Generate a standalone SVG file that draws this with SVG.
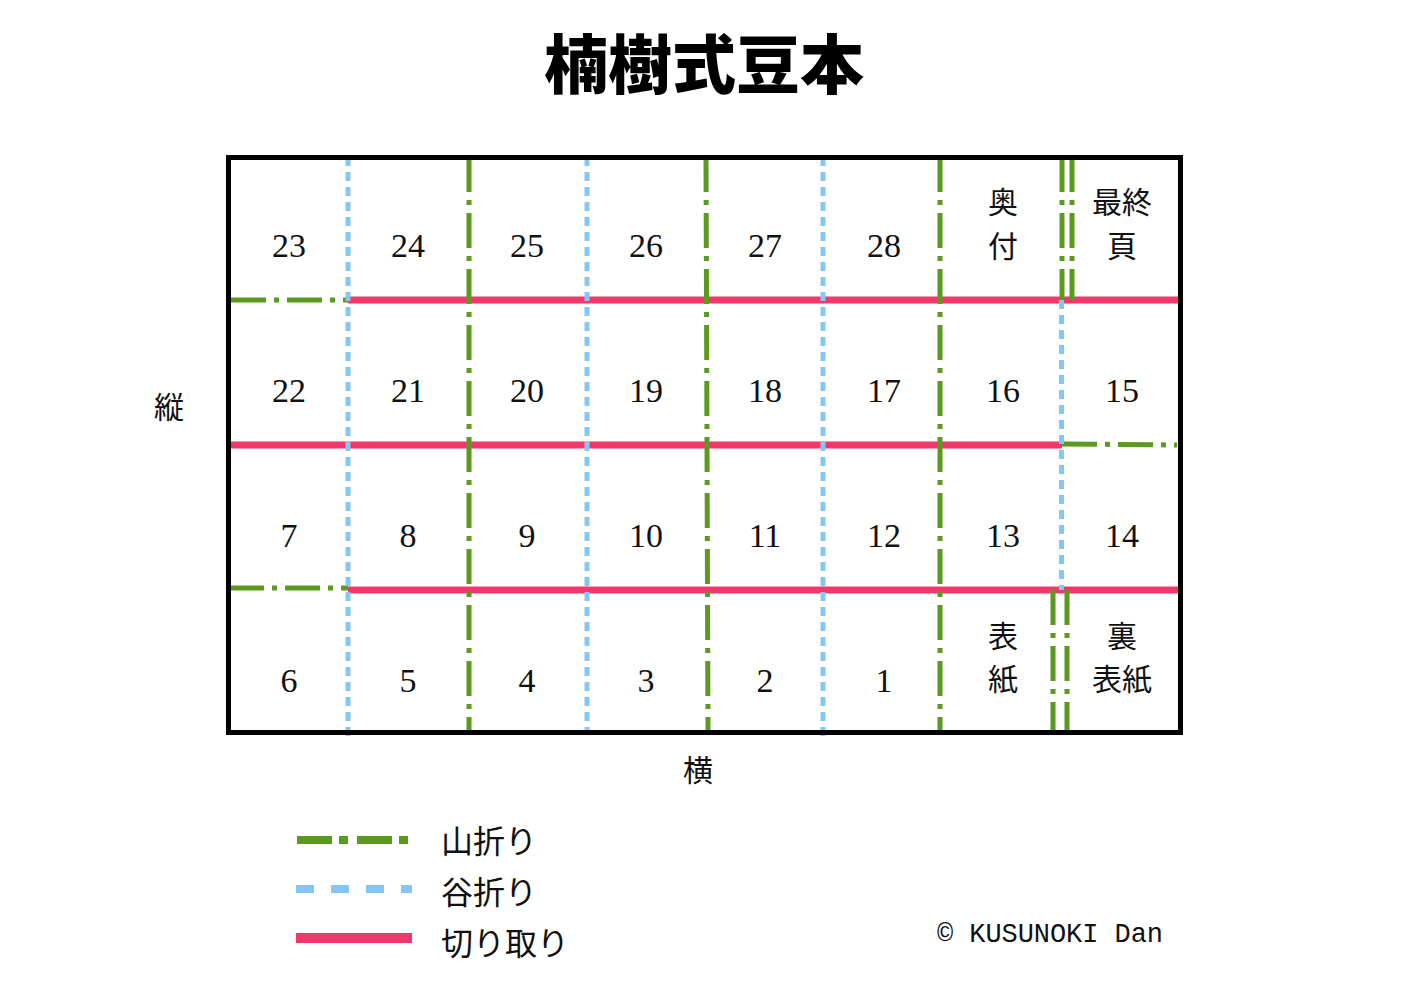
<svg xmlns="http://www.w3.org/2000/svg" width="1414" height="1000" viewBox="0 0 1414 1000">
<style>
.m{stroke:#5b9a1f;stroke-width:5;stroke-dasharray:35 8 5 8;fill:none}
.v{stroke:#84c7f7;stroke-width:5;stroke-dasharray:9 6;fill:none}
.c{stroke:#f2386a;stroke-width:7;fill:none}
.n{font-family:"Liberation Serif","Noto Sans CJK JP",serif;font-size:34px;fill:#111;text-anchor:middle}
.j{font-family:"Noto Sans CJK JP","Noto Sans CJK SC",sans-serif;font-size:30px;fill:#111;text-anchor:middle}
.lg{font-family:"Noto Sans CJK JP","Noto Sans CJK SC",sans-serif;font-size:32px;fill:#111}
</style>
<rect width="1414" height="1000" fill="#fff"/>
<g id="title"><text x="704" y="88" text-anchor="middle" font-family="'Noto Sans CJK JP','Noto Sans CJK SC',sans-serif" font-weight="900" font-size="64" fill="#000">楠樹式豆本</text></g>
<g id="connectors">
<line class="c" x1="348" y1="300" x2="1180" y2="300"/>
<line class="c" x1="229" y1="445" x2="1062" y2="445"/>
<line class="c" x1="348" y1="590" x2="1180" y2="590"/>
<line class="m" x1="231" y1="300" x2="348" y2="300"/>
<line class="m" x1="229" y1="588" x2="348" y2="588"/>
<line class="m" x1="1062" y1="444" x2="1177" y2="445" stroke-dasharray="3 6 4 9 36 8 5 9 36"/>
<line class="v" x1="348" y1="157" x2="348" y2="738"/>
<line class="v" x1="587" y1="157" x2="587" y2="733"/>
<line class="v" x1="823" y1="157" x2="823" y2="736"/>
<line class="v" x1="1061.5" y1="300" x2="1061.5" y2="590" stroke-dasharray="11 10"/>
<line class="m" x1="469" y1="157" x2="469" y2="733"/>
<line class="m" x1="706" y1="157" x2="708" y2="733"/>
<line class="m" x1="940" y1="157" x2="940" y2="733"/>
<line class="m" x1="1062" y1="157" x2="1062" y2="300"/>
<line class="m" x1="1072" y1="157" x2="1072" y2="300" stroke-dasharray="33 8 4 8"/>
<line class="m" x1="1053" y1="590" x2="1053" y2="733"/>
<line class="m" x1="1067" y1="590" x2="1067" y2="733"/>
</g>
<g id="frame"><rect x="228.5" y="157.5" width="952" height="575" fill="none" stroke="#000" stroke-width="5"/></g>
<g id="row1">
<text class="n" x="289" y="257">23</text>
<text class="n" x="408" y="257">24</text>
<text class="n" x="527" y="257">25</text>
<text class="n" x="646" y="257">26</text>
<text class="n" x="765" y="257">27</text>
<text class="n" x="884" y="257">28</text>
<text class="j" x="1003" y="213">奥</text>
<text class="j" x="1003" y="257">付</text>
<text class="j" x="1122" y="213">最終</text>
<text class="j" x="1122" y="257">頁</text>
</g>
<g id="row2">
<text class="n" x="289" y="402">22</text>
<text class="n" x="408" y="402">21</text>
<text class="n" x="527" y="402">20</text>
<text class="n" x="646" y="402">19</text>
<text class="n" x="765" y="402">18</text>
<text class="n" x="884" y="402">17</text>
<text class="n" x="1003" y="402">16</text>
<text class="n" x="1122" y="402">15</text>
</g>
<g id="row3">
<text class="n" x="289" y="547">7</text>
<text class="n" x="408" y="547">8</text>
<text class="n" x="527" y="547">9</text>
<text class="n" x="646" y="547">10</text>
<text class="n" x="765" y="547">11</text>
<text class="n" x="884" y="547">12</text>
<text class="n" x="1003" y="547">13</text>
<text class="n" x="1122" y="547">14</text>
</g>
<g id="row4">
<text class="n" x="289" y="692">6</text>
<text class="n" x="408" y="692">5</text>
<text class="n" x="527" y="692">4</text>
<text class="n" x="646" y="692">3</text>
<text class="n" x="765" y="692">2</text>
<text class="n" x="884" y="692">1</text>
<text class="j" x="1003" y="647">表</text>
<text class="j" x="1003" y="690">紙</text>
<text class="j" x="1122" y="647">裏</text>
<text class="j" x="1122" y="690">表紙</text>
</g>
<g id="axes">
<text class="j" x="169" y="418" font-size="36">縦</text>
<text class="j" x="698" y="781" font-size="36">横</text>
</g>
<g id="legend">
<line x1="297" y1="840" x2="408" y2="840" stroke="#5b9a1f" stroke-width="8" stroke-dasharray="35 7 9 9"/>
<line x1="296" y1="889" x2="412" y2="889" stroke="#84c7f7" stroke-width="8" stroke-dasharray="18 17"/>
<line x1="296" y1="938" x2="412" y2="938" stroke="#f2386a" stroke-width="10"/>
<text class="lg" x="441" y="853">山折り</text>
<text class="lg" x="441" y="904">谷折り</text>
<text class="lg" x="441" y="955">切り取り</text>
</g>
<g id="credit"><text x="937" y="942" font-family="'Liberation Mono',monospace" font-size="27" fill="#111" textLength="226">© KUSUNOKI Dan</text></g>
</svg>
